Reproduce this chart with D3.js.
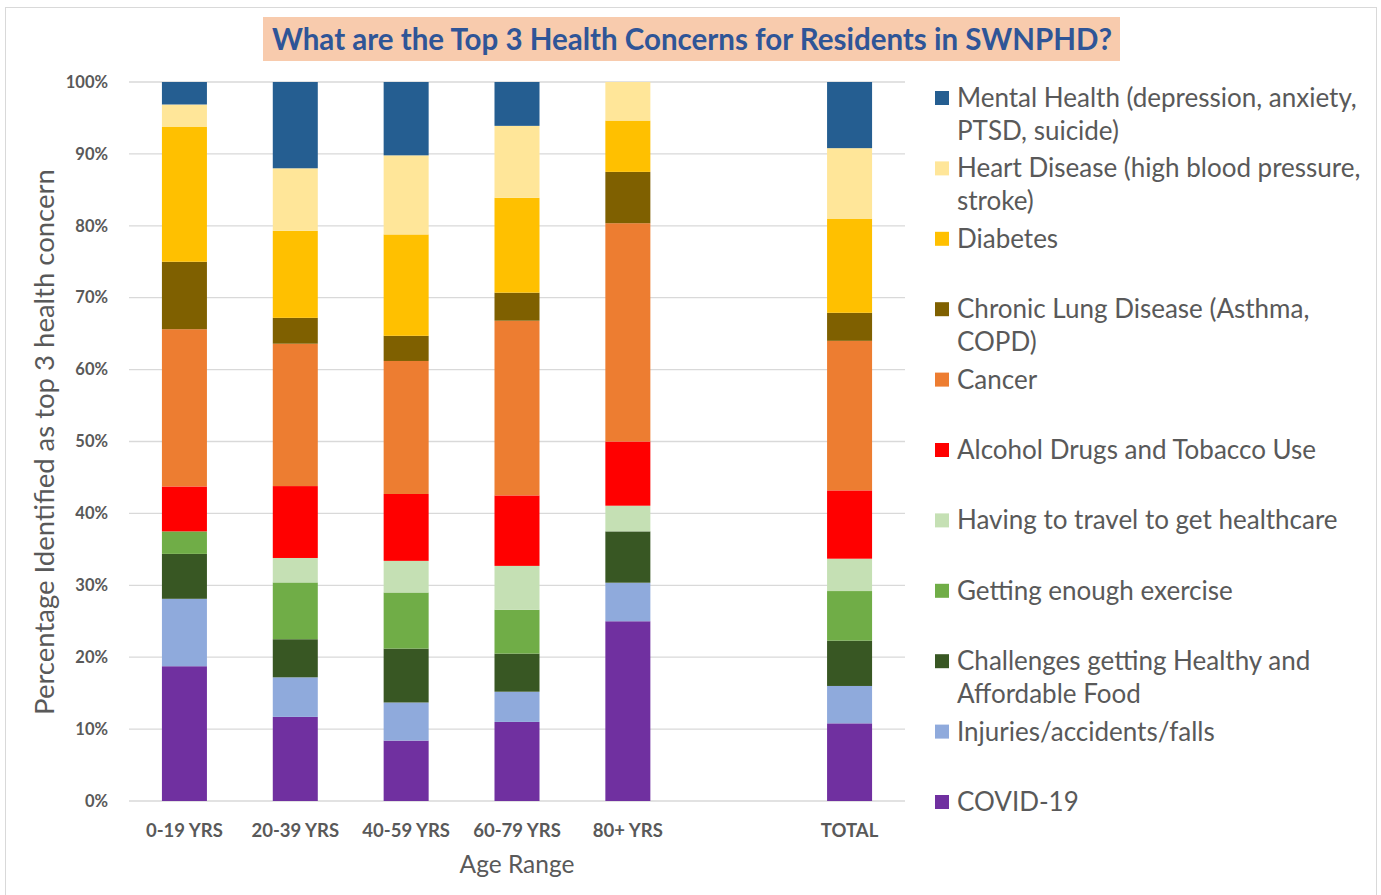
<!DOCTYPE html>
<html>
<head>
<meta charset="utf-8">
<script src="https://cdn.jsdelivr.net/npm/d3@7"></script>
<style>
  body { margin: 0; background: #fff; }
  svg { display: block; }
  text { font-family: Lato, "Open Sans", sans-serif; }
</style>
</head>
<body>
<svg width="1381" height="895"></svg>
<script>
// slots on the x axis (blank one sits between 80+ and TOTAL)
const slots = ["0-19 YRS", "20-39 YRS", "40-59 YRS", "60-79 YRS", "80+ YRS", "", "TOTAL"];
const groups = ["0-19 YRS", "20-39 YRS", "40-59 YRS", "60-79 YRS", "80+ YRS", "TOTAL"];

// series, bottom of the stack first
const seriesNames = [
  "COVID-19",
  "Injuries/accidents/falls",
  "Challenges getting Healthy and Affordable Food",
  "Getting enough exercise",
  "Having to travel to get healthcare",
  "Alcohol Drugs and Tobacco Use",
  "Cancer",
  "Chronic Lung Disease (Asthma, COPD)",
  "Diabetes",
  "Heart Disease (high blood pressure, stroke)",
  "Mental Health (depression, anxiety, PTSD, suicide)"
];
const seriesColors = ["#7030a0", "#8faadc", "#385723", "#70ad47", "#c5e0b4", "#ff0000",
                      "#ed7d31", "#7f6000", "#ffc000", "#ffe699", "#255e91"];

// percent values per group, same order as groups
const covid     = [18.75, 11.7,  8.4, 11.0, 25.0,  10.8];
const injuries  = [ 9.38,  5.5,  5.3,  4.2,  5.36,  5.2];
const food      = [ 6.25,  5.3,  7.5,  5.3,  7.14,  6.3];
const exercise  = [ 3.13,  7.9,  7.8,  6.1,  0,     6.9];
const travel    = [ 0,     3.4,  4.4,  6.1,  3.57,  4.5];
const alcohol   = [ 6.25, 10.0,  9.3,  9.8,  8.93,  9.5];
const cancer    = [21.88, 19.8, 18.5, 24.3, 30.36, 20.8];
const lung      = [ 9.38,  3.6,  3.5,  3.9,  7.14,  3.9];
const diabetes  = [18.75, 12.1, 14.1, 13.2,  7.14, 13.1];
const heart     = [ 3.13,  8.7, 11.0, 10.0,  5.36,  9.8];
const mental    = [ 3.13, 12.0, 10.2,  6.1,  0,     9.2];
const seriesValues = [covid, injuries, food, exercise, travel, alcohol, cancer, lung, diabetes, heart, mental];

// legend lines (wrapped like the original), top to bottom
const legendLines = [
  ["Mental Health (depression, anxiety,", "PTSD, suicide)"],
  ["Heart Disease (high blood pressure,", "stroke)"],
  ["Diabetes"],
  ["Chronic Lung Disease (Asthma,", "COPD)"],
  ["Cancer"],
  ["Alcohol Drugs and Tobacco Use"],
  ["Having to travel to get healthcare"],
  ["Getting enough exercise"],
  ["Challenges getting Healthy and", "Affordable Food"],
  ["Injuries/accidents/falls"],
  ["COVID-19"]
];
const yTicks = [0, 0.1, 0.2, 0.3, 0.4, 0.5, 0.6, 0.7, 0.8, 0.9, 1];

const svg = d3.select("svg");
const plotLeft = 129, plotRight = 905, plotTop = 82, plotBottom = 801;

// chart frame
svg.append("rect")
  .attr("x", 5.5).attr("y", 7.5)
  .attr("width", 1371).attr("height", 900)
  .attr("fill", "#fff").attr("stroke", "#d9d9d9");

// title
svg.append("rect")
  .attr("x", 263).attr("y", 17)
  .attr("width", 857).attr("height", 44)
  .attr("fill", "#f8cbad");
svg.append("text")
  .attr("x", 692).attr("y", 50)
  .attr("text-anchor", "middle")
  .attr("font-size", 29.5).attr("font-weight", "bold")
  .attr("fill", "#2f5597")
  .text("What are the Top 3 Health Concerns for Residents in SWNPHD?");

const rows = groups.map((g, i) => {
  const r = { group: g };
  seriesNames.forEach((s, k) => r[s] = seriesValues[k][i]);
  return r;
});

const x = d3.scaleBand().domain(slots).range([plotLeft, plotRight])
  .paddingInner(0.594).paddingOuter(0.297);
const y = d3.scaleLinear().domain([0, 1]).range([plotBottom, plotTop]);

// gridlines
svg.append("g")
  .selectAll("line").data(yTicks).join("line")
  .attr("x1", plotLeft).attr("x2", plotRight)
  .attr("y1", d => y(d)).attr("y2", d => y(d))
  .attr("stroke", "#d9d9d9").attr("stroke-width", 1.3);

const stack = d3.stack().keys(seriesNames).offset(d3.stackOffsetExpand);
const layers = stack(rows);

svg.append("g")
  .selectAll("g").data(layers).join("g")
  .attr("fill", (d, i) => seriesColors[i])
  .selectAll("rect").data(d => d).join("rect")
  .attr("x", d => x(d.data.group))
  .attr("width", x.bandwidth())
  .attr("y", d => y(d[1]))
  .attr("height", d => Math.max(0, y(d[0]) - y(d[1])));

// y axis
const yAxis = svg.append("g")
  .attr("transform", `translate(${plotLeft},0)`)
  .call(d3.axisLeft(y).tickValues(yTicks).tickFormat(d3.format(".0%")).tickSize(0).tickPadding(21));
yAxis.select(".domain").remove();
yAxis.selectAll("text")
  .attr("font-family", "Lato, sans-serif")
  .attr("font-size", 16.5).attr("font-weight", "bold")
  .attr("fill", "#595959");

// x axis
const xAxis = svg.append("g")
  .attr("transform", `translate(0,${plotBottom})`)
  .call(d3.axisBottom(x).tickSize(0).tickPadding(23));
xAxis.select(".domain").remove();
xAxis.selectAll("text")
  .attr("font-family", "Lato, sans-serif")
  .attr("font-size", 18.5).attr("font-weight", "bold")
  .attr("fill", "#595959");

// axis titles
svg.append("text")
  .attr("x", 517).attr("y", 873)
  .attr("text-anchor", "middle")
  .attr("font-size", 24.5).attr("fill", "#595959")
  .text("Age Range");
svg.append("text")
  .attr("transform", "translate(54,442) rotate(-90)")
  .attr("text-anchor", "middle")
  .attr("font-size", 27.5).attr("fill", "#595959")
  .text("Percentage Identified as top 3 health concern");

// legend
const legendColors = seriesColors.slice().reverse();
const legend = svg.append("g")
  .selectAll("g").data(legendLines).join("g")
  .attr("transform", (d, i) => `translate(935,${98 + i * 70.4})`);
legend.append("rect")
  .attr("x", 0).attr("y", -7)
  .attr("width", 14).attr("height", 14)
  .attr("fill", (d, i) => legendColors[i]);
legend.append("text")
  .attr("x", 22).attr("y", 9)
  .attr("font-size", 26).attr("fill", "#595959")
  .selectAll("tspan").data(d => d).join("tspan")
  .attr("x", 22).attr("dy", (d, j) => j === 0 ? 0 : 32.5)
  .text(d => d);
</script>
</body>
</html>
